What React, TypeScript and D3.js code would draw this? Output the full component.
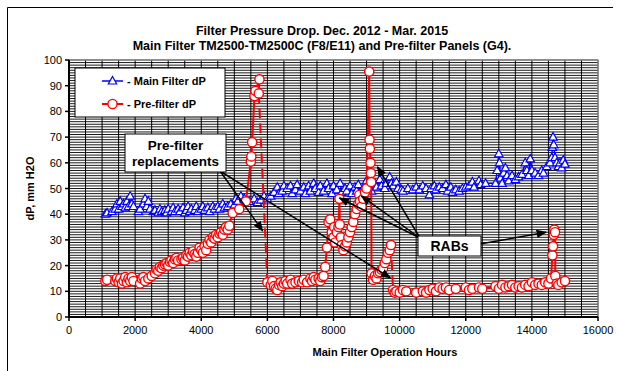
import * as d3 from "d3";
import React from "react";

// Main filter dP (blue triangles): [operation hours, mm H2O]
const mainHours = [1100,1150,1300,1400,1450,1500,1550,1600,1650,1700,1750,1800,1850,1900,1950,2100,2150,2250,2300,2350,2400,2450,2550,2600,2700,2750,2800,2900,2950,3000,3100,3150,3200,3300,3350,3450,3500,3550,3600,3650,3700,3800,3850,3900,4000,4050,4100,4200,4250,4350,4400,4500,4550,4650,4700,4800,4900,5000,5050,5100,5200,5300,5450,5600,5700,5800,5900,6000,6100,6200,6300,6350,6450,6500,6600,6700,6750,6850,6900,7000,7100,7150,7250,7300,7400,7450,7550,7600,7700,7800,7850,7950,8000,8100,8200,8250,8350,8400,8500,8550,8650,8700,8750,8850,8900,9000,9050,9150,9250,9300,9400,9450,9550,9600,9700,9750,9800,9900,9950,10050,10100,10250,10400,10500,10600,10700,10800,10900,10950,11050,11100,11200,11300,11400,11450,11550,11600,11700,11800,11900,12000,12100,12200,12250,12400,12450,12600,12900,12950,13000,13020,13050,13100,13150,13200,13250,13300,13400,13500,13600,13700,13800,13850,13900,13950,14000,14100,14200,14300,14350,14450,14550,14600,14620,14640,14660,14700,14750,14800,14850,14900,14950,15000];
const mainDp = [40,40.5,41,42,44,42,45,43,44,42.5,45,43,47,44,43,41,42,44,46,43,45,42,41,41.5,40.5,42,41,41.5,40.5,42,41,42.5,41,42,41,42.5,40.5,41.5,43,41,42,41.5,43,41,42,43,41.5,42.5,41,43,42,43,42,44,42.5,43,44,43.5,46,45,47,46,45,46,44.5,45.5,47,46,47,48.5,50.5,48,49,51,50,51,48,49.5,51.5,49,50.5,48,51,49,52,50,48.5,51,49,52,50,48,51,49.5,52,48.5,50,49,51,48,50.5,49,51.5,49,50,53,51,49,52,50.5,53.5,51,50,52,54.5,52,51,52.5,50,49.5,49,50,49.5,50.5,49.5,51,50,47.5,50,51,49.5,50.5,50,51.5,49,50.5,48.5,49.5,49,50,50.5,51,52.5,50.5,53,51.5,52,52,57,63.5,60,54,52,56,58,55,53,55,53.5,54.5,55.5,60,57,55,61.5,57,56,55,57,56,58.5,60,62,66,70,67,62,60,58.5,60,58,61,59.5];

// Pre-filter dP (red circles), split at the two panel replacements
const pre1Hours = [1100,1150,1400,1450,1500,1550,1600,1650,1700,1750,1800,1850,1900,1950,2150,2200,2250,2300,2400,2500,2600,2650,2700,2750,2800,2850,2900,2950,3000,3050,3100,3150,3200,3250,3300,3400,3450,3500,3550,3600,3650,3700,3750,3800,3850,3900,3950,4000,4050,4100,4150,4200,4250,4300,4350,4400,4450,4500,4550,4600,4650,4700,4750,4800,4850,4950,5150,5350,5500,5515,5540,5610,5640,5760,5740];
const pre1Dp = [14,14.5,14,15,13.5,15,13,14,15.5,13.5,15,14,15.5,14,13,15,15.5,14,15,16,17,18.5,18,19.5,19,20,20.5,21,20,21.5,22,21,22.5,23,22,22.5,23,22,24,23.5,25,24,25.5,24.5,23.5,25,27,26,25,27.5,26,28.5,30,29,31,30.5,32,31,32.5,33,32,34,35,34,35.5,40.5,42,45,60.5,62.5,68,86,88,92.5,87];
const pre2Hours = [6000,6100,6150,6200,6250,6300,6350,6400,6450,6500,6550,6600,6700,6750,6850,6950,7050,7100,7200,7300,7350,7400,7450,7550,7600,7650,7700,7750,7800,7850,7900,7950,8000,8020,8050,8100,8150,8180,8190,8220,8250,8300,8350,8400,8450,8500,8550,8600,8650,8700,8750,8780,8800,8850,8900,8950,9000,9080,9090,9100,9120,9130,9140,9150,9200,9250,9300,9350,9400,9450,9500,9550,9600,9650,9700,9740];
const pre2Dp = [13.5,12.5,14,12,11,10.5,12.5,13.5,12,13,14,13,14.5,13,13.5,14,13.5,14.5,13.5,15,14,15.5,14.5,15,14,15.5,16,19.5,27,37,38,33,31,35,29,33,35,46,36,31,28,26,27.5,29,31,33,35,37,40,42,44,47.5,45,43,46,48.5,50,95.5,69,65.5,60,56,52.5,17,14.5,16,15,17,17.5,18.5,19,21,22.5,25,26,28];
const pre3Hours = [9800,9850,9900,10000,10100,10200,10500,10700,10800,10900,11000,11100,11200,11300,11400,11500,11700,12000,12100,12200,12400,12500,12900,13000,13100,13200,13300,13400,13500,13600,13700,13800,13900,14000,14100,14200,14300,14400,14500,14580,14620,14640,14660,14680,14700,14710,14750,14800,14900,15000];
const pre3Dp = [10.5,9.5,10,9.5,10.5,10,9.5,10,9.5,10.5,11,10,11.5,11,11.5,10.5,11,11.5,10.5,11,11.5,11,12,11,12.5,11.5,12,12.5,11.5,12,11.5,12.5,12,13.5,12.5,13,12.5,13.5,13,15,24,27.5,32,34,33,16,13,12.5,13.5,14];

const xTicks = [0, 2000, 4000, 6000, 8000, 10000, 12000, 14000, 16000];
const yTicks = [0, 10, 20, 30, 40, 50, 60, 70, 80, 90, 100];

// annotation arrow targets in data units [hours, dP]
const replacementTargets: [number, number][] = [[5857, 33.5], [9720, 15.2]];
const rabTargets: [number, number][] = [[8180, 46.3], [8845, 47], [9330, 58.4]];
const rabRightTarget: [number, number] = [14430, 33];

const FONT = "'Liberation Sans', Arial, sans-serif";

export default function App() {
  const W = 621, H = 371;
  const x = d3.scaleLinear().domain([0, 16000]).range([69, 598]);
  const y = d3.scaleLinear().domain([0, 100]).range([317, 60]);
  const line = d3.line<[number, number]>().x(d => x(d[0])).y(d => y(d[1]));

  const mainPts = mainHours.map((h, i) => [h, mainDp[i]] as [number, number]);
  const pre1 = pre1Hours.map((h, i) => [h, pre1Dp[i]] as [number, number]);
  const pre2 = pre2Hours.map((h, i) => [h, pre2Dp[i]] as [number, number]);
  const pre3 = pre3Hours.map((h, i) => [h, pre3Dp[i]] as [number, number]);
  const drops = [
    [pre1[pre1.length - 1], pre2[0]],
    [pre2[pre2.length - 1], pre3[0]],
  ];

  const tri = (cx: number, cy: number) => `M${cx},${cy - 4.5}L${cx + 4.2},${cy + 3}L${cx - 4.2},${cy + 3}Z`;
  const [x0, x1] = x.range();
  const [y0, y1] = y.range();

  return (
    <svg width={W} height={H} style={{ position: "absolute", left: 0, top: 0, background: "#fff" }}>
      <defs>
        <marker id="ah" viewBox="0 0 10 10" refX="9" refY="5" markerWidth="7" markerHeight="7" orient="auto">
          <path d="M0,1L10,5L0,9Z" fill="#000" />
        </marker>
      </defs>
      {/* chart frame */}
      <path d="M7.5,380V7.5H613" fill="none" stroke="#000" strokeWidth={1} />

      <text x={322} y={35} textAnchor="middle" fontFamily={FONT} fontWeight="bold" fontSize={12.5}>
        Filter Pressure Drop. Dec. 2012 - Mar. 2015
      </text>
      <text x={322} y={50} textAnchor="middle" fontFamily={FONT} fontWeight="bold" fontSize={12.5}>
        Main Filter TM2500-TM2500C (F8/E11) and Pre-filter Panels (G4).
      </text>

      {/* plot area + grid */}
      <rect x={x0} y={y1} width={x1 - x0} height={y0 - y1} fill="#fff" stroke="#808080" />
      <g stroke="#000" strokeWidth={0.9}>
        {d3.range(1, 100).map(v => (
          <line key={"h" + v} x1={x0} x2={x1} y1={y(v)} y2={y(v)} />
        ))}
      </g>
      <g stroke="#000" strokeWidth={1}>
        {d3.range(500, 16000, 500).map(v => (
          <line key={"v" + v} x1={x(v)} x2={x(v)} y1={y1} y2={y0} />
        ))}
      </g>
      <line x1={x0} x2={x1} y1={y1} y2={y1} stroke="#808080" strokeWidth={1.5} />
      <line x1={x1} x2={x1} y1={y1} y2={y0} stroke="#808080" strokeWidth={1.5} />

      {/* axes */}
      <line x1={x0} x2={x0} y1={y1} y2={y0} stroke="#000" strokeWidth={2} />
      <line x1={x0} x2={x1} y1={y0} y2={y0} stroke="#000" strokeWidth={2} />
      {yTicks.map(v => (
        <g key={"yt" + v}>
          <line x1={x0 - 4} x2={x0} y1={y(v)} y2={y(v)} stroke="#000" strokeWidth={1.5} />
          <text x={x0 - 7} y={y(v) + 4} textAnchor="end" fontFamily={FONT} fontSize={11}>{v}</text>
        </g>
      ))}
      {xTicks.map(v => (
        <g key={"xt" + v}>
          <line x1={x(v)} x2={x(v)} y1={y0} y2={y0 + 4} stroke="#000" strokeWidth={1.5} />
          <text x={x(v)} y={y0 + 17} textAnchor="middle" fontFamily={FONT} fontSize={11}>{v}</text>
        </g>
      ))}
      <text x={385} y={356} textAnchor="middle" fontFamily={FONT} fontWeight="bold" fontSize={11}>
        Main Filter Operation Hours
      </text>
      <text transform={`translate(34,${(y0 + y1) / 2}) rotate(-90)`} textAnchor="middle" fontFamily={FONT} fontWeight="bold" fontSize={11}>
        dP, mm H2O
      </text>

      {/* main filter series */}
      <path d={line(mainPts) ?? ""} fill="none" stroke="#0000ff" strokeWidth={1.5} />
      {mainPts.map((d, i) => (
        <path key={"m" + i} d={tri(x(d[0]), y(d[1]))} fill="#fff" stroke="#0000ff" strokeWidth={1.2} />
      ))}

      {/* pre-filter series */}
      {[pre1, pre2, pre3].map((seg, k) => (
        <path key={"p" + k} d={line(seg) ?? ""} fill="none" stroke="#ff0000" strokeWidth={2} />
      ))}
      {drops.map((seg, k) => (
        <path key={"d" + k} d={line(seg as [number, number][]) ?? ""} fill="none" stroke="#ff0000" strokeWidth={2} strokeDasharray="10,5" />
      ))}
      {[...pre1, ...pre2, ...pre3].map((d, i) => (
        <circle key={"c" + i} cx={x(d[0])} cy={y(d[1])} r={4.6} fill="#fff" stroke="#ff0000" strokeWidth={1.4} />
      ))}

      {/* legend */}
      <rect x={75} y={68} width={150} height={49} fill="#fff" stroke="#000" strokeWidth={1} />
      <line x1={102} x2={123} y1={81} y2={81} stroke="#0000ff" strokeWidth={1.5} />
      <path d={tri(112.5, 81)} fill="#fff" stroke="#0000ff" strokeWidth={1.2} />
      <text x={127} y={85} fontFamily={FONT} fontWeight="bold" fontSize={11}>- Main Filter dP</text>
      <line x1={102} x2={123} y1={104} y2={104} stroke="#ff0000" strokeWidth={2} />
      <circle cx={112.5} cy={104} r={4.6} fill="#fff" stroke="#ff0000" strokeWidth={1.4} />
      <text x={127} y={108} fontFamily={FONT} fontWeight="bold" fontSize={11}>- Pre-filter dP</text>

      {/* annotations */}
      {replacementTargets.map((t, i) => (
        <line key={"ra" + i} x1={220} y1={171} x2={x(t[0])} y2={y(t[1])} stroke="#000" strokeWidth={1.5} markerEnd="url(#ah)" />
      ))}
      <rect x={125} y={134} width={101} height={38} fill="#fff" stroke="#000" strokeWidth={1} />
      <text x={175.5} y={150} textAnchor="middle" fontFamily={FONT} fontWeight="bold" fontSize={13.5}>Pre-filter</text>
      <text x={175.5} y={166} textAnchor="middle" fontFamily={FONT} fontWeight="bold" fontSize={13.5}>replacements</text>

      {rabTargets.map((t, i) => (
        <line key={"rb" + i} x1={420} y1={238} x2={x(t[0])} y2={y(t[1])} stroke="#000" strokeWidth={1.5} markerEnd="url(#ah)" />
      ))}
      <line x1={480} y1={244} x2={x(rabRightTarget[0])} y2={y(rabRightTarget[1])} stroke="#000" strokeWidth={1.5} markerEnd="url(#ah)" />
      <rect x={418} y={236} width={63} height={20} fill="#fff" stroke="#000" strokeWidth={1} />
      <text x={449.5} y={251} textAnchor="middle" fontFamily={FONT} fontWeight="bold" fontSize={14}>RABs</text>
    </svg>
  );
}
